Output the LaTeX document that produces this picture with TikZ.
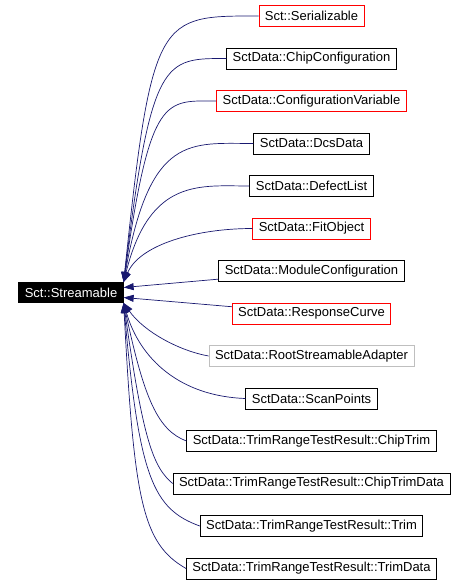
\documentclass[tikz,border=0pt]{standalone}
\usepackage{fontspec}
\setmainfont{Liberation Sans}
\usetikzlibrary{positioning,arrows.meta}
\definecolor{cnavy}{RGB}{25,25,112}
\definecolor{cred}{RGB}{255,0,0}
\definecolor{cgray}{RGB}{191,191,191}

\begin{document}
\begin{tikzpicture}[x=1pt, y=1pt, node distance=20.7pt,
    class/.style={rectangle, draw, line width=0.8pt, minimum height=21pt, inner xsep=6pt, inner ysep=0pt, font=\fontsize{13}{15}\selectfont},
    base/.style={class, fill=black, text=white, minimum height=20pt},
    inherit/.style={{Triangle[length=10pt,width=7pt]}-, cnavy, line width=0.7pt}]
    \useasboundingbox (0,0) rectangle (465,-585);

    \node[class,draw=cred] (Ser) at (311.5,-16) {Sct::Serializable};
    \node[class] (Chip) [below=of Ser] {SctData::ChipConfiguration};
    \node[class,draw=cred] (Conf) [below=of Chip] {SctData::ConfigurationVariable};
    \node[class] (Dcs) [below=of Conf] {SctData::DcsData};
    \node[class] (Defect) [below=of Dcs] {SctData::DefectList};
    \node[class,draw=cred] (Fit) [below=of Defect] {SctData::FitObject};
    \node[class] (Module) [below=of Fit] {SctData::ModuleConfiguration};
    \node[class,draw=cred] (Response) [below=of Module] {SctData::ResponseCurve};
    \node[class,draw=cgray] (Adapter) [below=of Response] {SctData::RootStreamableAdapter};
    \node[class] (Scan) [below=of Adapter] {SctData::ScanPoints};
    \node[class] (ChipTrim) [below=of Scan] {SctData::TrimRangeTestResult::ChipTrim};
    \node[class] (ChipTrimData) [below=of ChipTrim] {SctData::TrimRangeTestResult::ChipTrimData};
    \node[class] (Trim) [below=of ChipTrimData] {SctData::TrimRangeTestResult::Trim};
    \node[class] (TrimData) [below=of Trim] {SctData::TrimRangeTestResult::TrimData};
    \node[base] (Streamable) at (71,-292.5) {Sct::Streamable};

    \draw[inherit] (Streamable.north east) to[out=84,in=180,out distance=270pt,in distance=100pt] (Ser.west);
    \draw[inherit] (Streamable.north east) to[out=83,in=180,out distance=227pt,in distance=62pt] (Chip.west);
    \draw[inherit] (Streamable.north east) to[out=82,in=180,out distance=191pt,in distance=51pt] (Conf.west);
    \draw[inherit] (Streamable.north east) to[out=80,in=180,out distance=151pt,in distance=63pt] (Dcs.west);
    \draw[inherit] (Streamable.north east) to[out=76,in=180,out distance=108pt,in distance=49pt] (Defect.west);
    \draw[inherit] (Streamable.north east) to[out=67,in=180,out distance=41pt,in distance=56pt] (Fit.west);

    \draw[inherit] ([yshift=5pt]Streamable.east) -- (Module);
    \draw[inherit] ([yshift=-5pt]Streamable.east) -- (Response);

    \draw[inherit] (Streamable.south east) to[out=-55,in=170,out distance=35pt,in distance=30pt] (Adapter.west);
    \draw[inherit] (Streamable.south east) to[out=-74,in=178,out distance=59pt,in distance=65pt] (Scan.west);
    \draw[inherit] (Streamable.south east) to[out=-78,in=159,out distance=100pt,in distance=30pt] (ChipTrim.west);
    \draw[inherit] (Streamable.south east) to[out=-82,in=140,out distance=140pt,in distance=25pt] (ChipTrimData.west);
    \draw[inherit] (Streamable.south east) to[out=-85,in=160,out distance=175pt,in distance=50pt] (Trim.west);
    \draw[inherit] (Streamable.south east) to[out=-87,in=150,out distance=200pt,in distance=50pt] (TrimData.west);
\end{tikzpicture}
\end{document}
